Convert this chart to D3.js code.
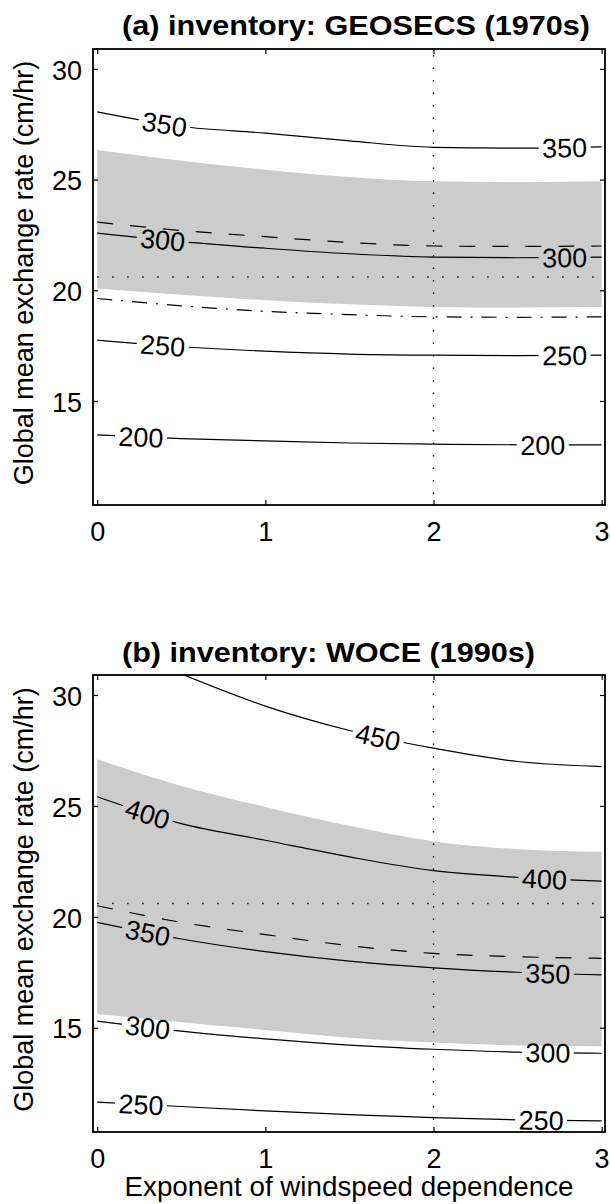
<!DOCTYPE html>
<html>
<head>
<meta charset="utf-8">
<script src="https://cdn.jsdelivr.net/npm/d3@7"></script>
<style>
  html, body { margin: 0; padding: 0; background: #fff; }
  svg { display: block; font-family: "Liberation Sans", Arial, Helvetica, sans-serif; }
</style>
</head>
<body>
<svg id="chart" width="610" height="1204"></svg>
<script>
// Exponent of windspeed dependence (x) at which each curve is tabulated
const exponents = [0, 0.5, 1, 1.5, 2, 2.5, 3];
const xTicks = [0, 1, 2, 3];
const yTicks = [15, 20, 25, 30];
const refExponent = 2;      // quadratic windspeed dependence
const refRate = 20.6;       // reference global mean exchange rate (cm/hr)

// (a) GEOSECS inventory: contour levels of the bomb-14C inventory, rate in cm/hr
const a350 = [28.06, 27.40, 27.10, 26.75, 26.46, 26.42, 26.48];
const a300 = [22.58, 22.20, 21.90, 21.65, 21.50, 21.47, 21.50];
const a250 = [17.75, 17.45, 17.25, 17.12, 17.07, 17.05, 17.07];
const a200 = [13.47, 13.30, 13.20, 13.10, 13.05, 13.02, 13.02];
const aDashed  = [23.08, 22.70, 22.42, 22.16, 22.00, 21.98, 22.00];
const aDashDot = [19.63, 19.30, 19.05, 18.90, 18.80, 18.78, 18.80];
const aBandHigh = [26.34, 25.85, 25.45, 25.12, 24.92, 24.88, 24.92];
const aBandLow  = [20.08, 19.80, 19.55, 19.37, 19.25, 19.22, 19.24];

// (b) WOCE inventory
const b450Exponents = [0.5, 1, 1.5, 2, 2.5, 3];
const b450 = [30.95, 29.50, 28.40, 27.60, 27.00, 26.77];
const b400 = [25.41, 24.20, 23.45, 22.70, 22.08, 21.78, 21.61];
const b350 = [19.75, 19.00, 18.43, 18.00, 17.70, 17.50, 17.38];
const b300 = [15.30, 14.85, 14.50, 14.22, 14.03, 13.90, 13.85];
const b250 = [11.65, 11.45, 11.25, 11.08, 10.95, 10.85, 10.80];
const bDashed = [20.50, 19.75, 19.20, 18.70, 18.35, 18.20, 18.13];
const bBandHigh = [27.10, 25.90, 24.95, 24.10, 23.40, 23.05, 22.93];
const bBandLow  = [15.62, 15.25, 14.90, 14.55, 14.33, 14.20, 14.17];

const svg = d3.select("#chart");
const x = d3.scaleLinear().domain([-0.025, 3.02]).range([93, 605]);
const yDomain = [10.3, 30.9];

const panels = [
  {
    id: "a", title: "(a) inventory: GEOSECS (1970s)", titleY: 35, titleLen: 468,
    top: 49, bottom: 505,
    band: [aBandLow, aBandHigh],
    contours: [
      { xs: exponents, ys: a350, level: 350, at: [0.40, 2.78] },
      { xs: exponents, ys: a300, level: 300, at: [0.39, 2.78] },
      { xs: exponents, ys: a250, level: 250, at: [0.39, 2.78] },
      { xs: exponents, ys: a200, level: 200, at: [0.26, 2.65] }
    ],
    dashed: aDashed, dashDot: aDashDot, xlabel: false
  },
  {
    id: "b", title: "(b) inventory: WOCE (1990s)", titleY: 662, titleLen: 413,
    top: 675, bottom: 1132,
    band: [bBandLow, bBandHigh],
    contours: [
      { xs: b450Exponents, ys: b450, level: 450, at: [1.67] },
      { xs: exponents, ys: b400, level: 400, at: [0.30, 2.66] },
      { xs: exponents, ys: b350, level: 350, at: [0.30, 2.68] },
      { xs: exponents, ys: b300, level: 300, at: [0.30, 2.68] },
      { xs: exponents, ys: b250, level: 250, at: [0.26, 2.64] }
    ],
    dashed: bDashed, dashDot: null, xlabel: true
  }
];

// Locate the point on a rendered curve where it crosses screen x = px
function pointAtX(node, px) {
  let lo = 0, hi = node.getTotalLength();
  for (let i = 0; i < 40; i++) {
    const mid = (lo + hi) / 2;
    if (node.getPointAtLength(mid).x < px) lo = mid; else hi = mid;
  }
  return node.getPointAtLength((lo + hi) / 2);
}

const defs = svg.append("defs");

panels.forEach(p => {
  const y = d3.scaleLinear().domain(yDomain).range([p.bottom, p.top]);
  const g = svg.append("g");

  defs.append("clipPath").attr("id", "clip-" + p.id)
    .append("rect").attr("x", x.range()[0]).attr("y", p.top)
    .attr("width", x.range()[1] - x.range()[0]).attr("height", p.bottom - p.top);

  const plot = g.append("g").attr("clip-path", `url(#clip-${p.id})`);

  // shaded uncertainty band
  const area = d3.area()
    .x((d, i) => x(exponents[i]))
    .y0((d, i) => y(p.band[0][i]))
    .y1((d, i) => y(p.band[1][i]))
    .curve(d3.curveMonotoneX);
  plot.append("path").datum(exponents).attr("d", area).attr("fill", "#cccccc");

  // dotted reference lines
  plot.append("line")
    .attr("x1", x(0)).attr("x2", x(3)).attr("y1", y(refRate)).attr("y2", y(refRate))
    .attr("stroke", "#000").attr("stroke-width", 1.4).attr("stroke-dasharray", "1.4,13.6");
  plot.append("line")
    .attr("x1", x(refExponent)).attr("x2", x(refExponent))
    .attr("y1", y(yDomain[1])).attr("y2", y(yDomain[0]))
    .attr("stroke", "#000").attr("stroke-width", 1.4).attr("stroke-dasharray", "1.4,11.1")
    .attr("stroke-dashoffset", -6);

  const line = (xs) => d3.line()
    .x((d, i) => x(xs[i]))
    .y(d => y(d))
    .curve(d3.curveMonotoneX);

  if (p.dashed) {
    plot.append("path").datum(p.dashed).attr("d", line(exponents))
      .attr("fill", "none").attr("stroke", "#000").attr("stroke-width", 1.2)
      .attr("stroke-dasharray", "16,17");
  }
  if (p.dashDot) {
    plot.append("path").datum(p.dashDot).attr("d", line(exponents))
      .attr("fill", "none").attr("stroke", "#000").attr("stroke-width", 1.2)
      .attr("stroke-dasharray", "15,9,2,9");
  }

  // contour lines, broken where the inline labels sit
  const mask = defs.append("mask").attr("id", "mask-" + p.id)
    .attr("maskUnits", "userSpaceOnUse").attr("x", 0).attr("y", 0)
    .attr("width", 610).attr("height", 1204);
  mask.append("rect").attr("x", 0).attr("y", 0).attr("width", 610).attr("height", 1204).attr("fill", "#fff");

  const lines = plot.append("g").attr("mask", `url(#mask-${p.id})`);
  const labels = g.append("g");

  p.contours.forEach(c => {
    const path = lines.append("path").datum(c.ys).attr("d", line(c.xs)(c.ys))
      .attr("fill", "none").attr("stroke", "#000").attr("stroke-width", 1.2);
    const node = path.node();
    c.at.forEach(xe => {
      const px = x(xe);
      const pt = pointAtX(node, px);
      const pl = pointAtX(node, px - 8), pr = pointAtX(node, px + 8);
      const ang = Math.atan2(pr.y - pl.y, pr.x - pl.x) * 180 / Math.PI;
      mask.append("rect")
        .attr("x", -26).attr("y", -14).attr("width", 52).attr("height", 28)
        .attr("fill", "#000")
        .attr("transform", `translate(${pt.x},${pt.y}) rotate(${ang})`);
      labels.append("text")
        .attr("transform", `translate(${pt.x},${pt.y}) rotate(${ang})`)
        .attr("text-anchor", "middle").attr("dy", "0.36em")
        .attr("font-size", 27).attr("fill", "#000")
        .text(c.level);
    });
  });

  // axes: inward ticks on all four sides
  const xb = g.append("g").attr("transform", `translate(0,${p.bottom})`)
    .call(d3.axisBottom(x).tickValues(xTicks).tickSize(-5).tickFormat(d3.format("d")));
  const xt = g.append("g").attr("transform", `translate(0,${p.top})`)
    .call(d3.axisTop(x).tickValues(xTicks).tickSize(-5).tickFormat(""));
  const yl = g.append("g").attr("transform", `translate(${x.range()[0]},0)`)
    .call(d3.axisLeft(y).tickValues(yTicks).tickSize(-5).tickPadding(11).tickFormat(d3.format("d")));
  const yr = g.append("g").attr("transform", `translate(${x.range()[1]},0)`)
    .call(d3.axisRight(y).tickValues(yTicks).tickSize(-5).tickFormat(""));
  [xb, xt, yl, yr].forEach(a => {
    a.select(".domain").remove();
    a.selectAll(".tick line").attr("stroke", "#000").attr("stroke-width", 1.2);
    a.attr("font-family", null).attr("font-size", null);
  });
  xb.selectAll(".tick text").attr("y", 36).attr("dy", null)
    .attr("font-size", 27).attr("fill", "#000");
  yl.selectAll(".tick text").attr("dy", "0.38em")
    .attr("font-size", 27).attr("fill", "#000");

  g.append("rect")
    .attr("x", x.range()[0]).attr("y", p.top)
    .attr("width", x.range()[1] - x.range()[0]).attr("height", p.bottom - p.top)
    .attr("fill", "none").attr("stroke", "#000").attr("stroke-width", 1.8);

  // title and axis labels
  g.append("text")
    .attr("x", 122).attr("y", p.titleY)
    .attr("font-size", 28).attr("font-weight", "bold")
    .attr("textLength", p.titleLen).attr("lengthAdjust", "spacingAndGlyphs")
    .text(p.title);

  g.append("text")
    .attr("transform", `translate(33,${(p.top + p.bottom) / 2 - 4}) rotate(-90)`)
    .attr("text-anchor", "middle").attr("font-size", 27)
    .text("Global mean exchange rate (cm/hr)");

  if (p.xlabel) {
    g.append("text")
      .attr("x", (x.range()[0] + x.range()[1]) / 2).attr("y", 1196)
      .attr("text-anchor", "middle").attr("font-size", 27)
      .attr("textLength", 449).attr("lengthAdjust", "spacingAndGlyphs")
      .text("Exponent of windspeed dependence");
  }
});
</script>
</body>
</html>
